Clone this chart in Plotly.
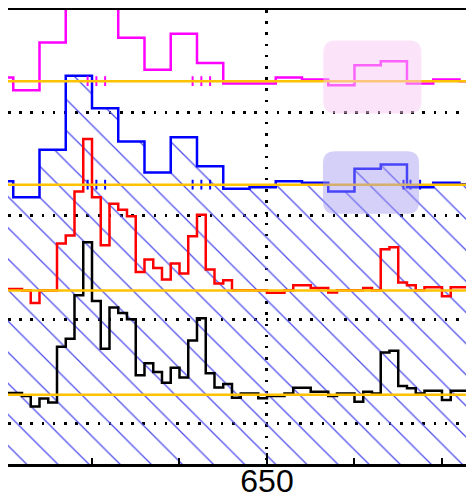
import plotly.graph_objects as go

# ---------------- data ----------------
# fine-binned spectra (bin width 0.5), first bin starts at 635.0
fine_bin_start = 635.0
fine_bin_width = 0.5
red_flux = [0.015, 0.015, 0.0, -0.122, 0.0, 0.0, 0.453, 0.532, 0.956, 1.464,
            0.901, 0.436, 0.838, 0.780, 0.718, 0.179, 0.298, 0.218, 0.106, 0.260,
            0.164, 0.523, 0.732, 0.202, 0.067, 0.099, 0.003, 0.003, 0.003, 0.003,
            -0.023, -0.023, 0.003, 0.051, 0.051, 0.025, 0.025, -0.019, 0.003, 0.003,
            0.003, 0.025, 0.003, 0.398, 0.417, 0.077, 0.051, 0.003, 0.032, 0.032,
            -0.055, 0.032, 0.032, 0.019]
black_flux = [0.016, 0.016, -0.013, -0.114, -0.037, -0.075, 0.464, 0.541, 0.960, 1.473,
              0.906, 0.445, 0.842, 0.790, 0.729, 0.188, 0.303, 0.219, 0.116, 0.260,
              0.167, 0.525, 0.738, 0.207, 0.070, 0.103, -0.029, 0.013, 0.013, -0.035,
              -0.013, -0.013, 0.013, 0.067, 0.067, 0.029, 0.029, -0.013, 0.013, 0.013,
              -0.067, 0.029, 0.013, 0.408, 0.424, 0.084, 0.062, 0.013, 0.039, 0.039,
              -0.051, 0.039, 0.039, 0.029]
# coarse-binned spectra (bin width 1.5), first bin starts at 634.0
coarse_bin_start = 634.0
coarse_bin_width = 1.5
blue_flux = [0.032, -0.122, 0.337, 1.052, 0.738, 0.417, 0.118, 0.458, 0.179, -0.040,
             -0.026, 0.032, 0.019, -0.065, 0.154, 0.195, -0.026, 0.019, 0.003]
magenta_flux = [0.035, -0.087, 0.372, 1.05, 0.74, 0.420, 0.109, 0.458, 0.176, -0.023,
                -0.023, 0.035, 0.015, -0.039, 0.154, 0.193, -0.023, 0.015, 0.0]

# vertical offsets (zero level of each spectrum)
offset_black = 0.273
offset_red = 1.280
offset_blue = 2.302
offset_magenta = 3.302

# masked-pixel marks
mark_x_magenta = [639.75, 640.25, 640.75, 645.75, 646.25, 646.75]
mark_x_blue = [639.75, 640.25, 640.75, 645.75, 646.25, 646.75, 657.8, 658.2, 658.75]

# highlighted windows (x0, x1, y0, y1)
pink_box = (653.22, 658.82, 2.990, 3.694)
purple_box = (653.20, 658.69, 2.020, 2.624)

x_range = [635.2, 661.83]
y_range = [-0.396, 3.989]


def edges(start, width, n):
    return [start + width * i for i in range(n + 1)]


def step_xy(start, width, flux, offset):
    e = edges(start, width, len(flux))
    ys = [f + offset for f in flux] + [flux[-1] + offset]
    return e, ys


fig = go.Figure()

# baseline for the hatched fill (below the visible range)
bx, _ = step_xy(coarse_bin_start, coarse_bin_width, blue_flux, offset_blue)
fig.add_trace(go.Scatter(x=[bx[0], bx[-1]], y=[-1.0, -1.0], mode="lines",
                         line=dict(width=0), hoverinfo="skip", showlegend=False))

# blue (with hatched fill down to the bottom)
x, y = step_xy(coarse_bin_start, coarse_bin_width, blue_flux, offset_blue)
fig.add_trace(go.Scatter(
    x=x, y=y, mode="lines", line=dict(color="#0000ff", width=2.5, shape="hv"),
    fill="tonexty", fillcolor="rgba(0,0,0,0)",
    fillpattern=dict(shape="\\", fgcolor="rgb(80,80,238)", bgcolor="rgba(0,0,0,0)",
                     size=22, solidity=0.06, fillmode="replace"),
    showlegend=False))

# magenta
x, y = step_xy(coarse_bin_start, coarse_bin_width, magenta_flux, offset_magenta)
fig.add_trace(go.Scatter(x=x, y=y, mode="lines",
                         line=dict(color="#ff00ff", width=2.5, shape="hv"), showlegend=False))

# red
x, y = step_xy(fine_bin_start, fine_bin_width, red_flux, offset_red)
fig.add_trace(go.Scatter(x=x, y=y, mode="lines",
                         line=dict(color="#ff0000", width=2.5, shape="hv"), showlegend=False))

# black
x, y = step_xy(fine_bin_start, fine_bin_width, black_flux, offset_black)
fig.add_trace(go.Scatter(x=x, y=y, mode="lines",
                         line=dict(color="#000000", width=2.5, shape="hv"), showlegend=False))

# masked pixel marks
fig.add_trace(go.Scatter(x=mark_x_magenta, y=[offset_magenta] * len(mark_x_magenta), mode="markers",
                         marker=dict(symbol="line-ns", size=7, line=dict(width=2, color="#ff00ff")),
                         showlegend=False))
fig.add_trace(go.Scatter(x=mark_x_blue, y=[offset_blue] * len(mark_x_blue), mode="markers",
                         marker=dict(symbol="line-ns", size=7, line=dict(width=2, color="#0000ff")),
                         showlegend=False))

# zero-level lines
for off in [offset_black, offset_red, offset_blue, offset_magenta]:
    fig.add_shape(type="line", xref="x domain", x0=0, x1=1, yref="y", y0=off, y1=off,
                  line=dict(color="#ffc200", width=2.5), layer="above")


def rounded_rect(x0, x1, y0, y1, rx, ry):
    return (f"M{x0+rx},{y0} L{x1-rx},{y0} Q{x1},{y0} {x1},{y0+ry} "
            f"L{x1},{y1-ry} Q{x1},{y1} {x1-rx},{y1} L{x0+rx},{y1} "
            f"Q{x0},{y1} {x0},{y1-ry} L{x0},{y0+ry} Q{x0},{y0} {x0+rx},{y0} Z")


rx, ry = 0.70, 0.115
fig.add_shape(type="path", xref="x", yref="y",
              path=rounded_rect(pink_box[0], pink_box[1], pink_box[2], pink_box[3], rx, ry),
              fillcolor="rgba(247,200,245,0.5)", line=dict(width=0), layer="above")
fig.add_shape(type="path", xref="x", yref="y",
              path=rounded_rect(purple_box[0], purple_box[1], purple_box[2], purple_box[3], rx, ry),
              fillcolor="rgba(160,150,240,0.45)", line=dict(width=0), layer="above")

dots = "2.5px,8.7px"
fig.update_xaxes(
    range=x_range, showline=True, linecolor="black", linewidth=2.5, mirror=True,
    ticks="inside", ticklen=11, tickwidth=2, tickcolor="black", tick0=0, dtick=50,
    showgrid=True, gridcolor="black", gridwidth=2.5, griddash=dots,
    minor=dict(ticks="inside", ticklen=6, tickwidth=2, tickcolor="black", tick0=0, dtick=5,
               showgrid=False),
    zeroline=False, automargin=False, ticklabelstandoff=-13,
    tickfont=dict(family="Liberation Sans, Arial, sans-serif", size=32, color="black"),
)
fig.update_yaxes(
    range=y_range, showline=False, ticks="", showticklabels=False, tick0=0, dtick=1,
    showgrid=True, gridcolor="black", gridwidth=2.5, griddash=dots, zeroline=False,
    automargin=False,
)
fig.update_layout(
    width=466, height=489, margin=dict(l=0, r=0, t=1.5, b=33, pad=0, autoexpand=False),
    paper_bgcolor="white", plot_bgcolor="white", showlegend=False,
)

fig.write_html("out.html")
